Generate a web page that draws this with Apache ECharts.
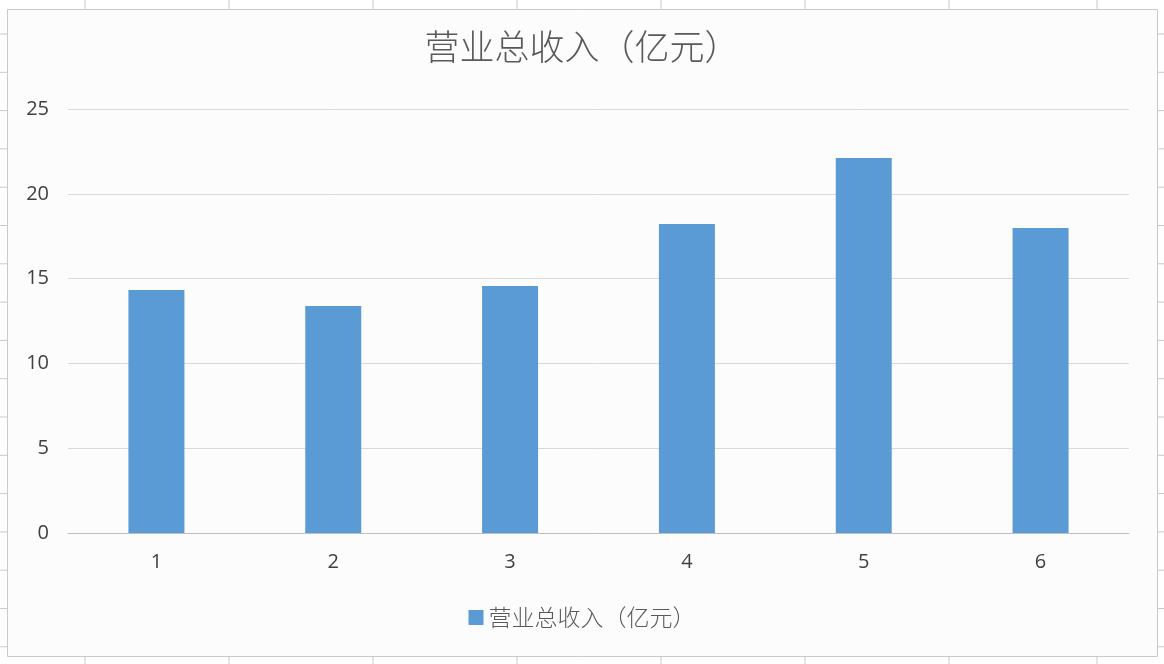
<!DOCTYPE html>
<html>
<head>
<meta charset="UTF-8">
<title>营业总收入</title>
<script src="https://cdn.jsdelivr.net/npm/echarts@6/dist/echarts.min.js"></script>
<style>
  html, body { margin: 0; padding: 0; background: #ffffff; }
  #main { width: 1164px; height: 664px; }
</style>
</head>
<body>
<div id="main"></div>
<script type="text/javascript">
    // 数据
    var titleText = '营业总收入（亿元）';
    var categories = ['1', '2', '3', '4', '5', '6'];
    var revenue = [14.33, 13.38, 14.56, 18.22, 22.11, 17.98];
    var yTicks = { min: 0, max: 25, interval: 5 };

    var myChart = echarts.init(document.getElementById('main'));

    // 表格背景的单元格刻线（装饰）
    var decor = [];
    var colX = [85, 229, 373, 517, 661, 805, 949, 1097];
    colX.forEach(function (x) {
        decor.push({ type: 'line', shape: { x1: x, y1: 0, x2: x, y2: 9 }, style: { stroke: '#c8c8c8', lineWidth: 1 }, z: -1 });
        decor.push({ type: 'line', shape: { x1: x, y1: 657, x2: x, y2: 664 }, style: { stroke: '#c8c8c8', lineWidth: 1 }, z: -1 });
    });
    for (var y = 34; y < 664; y += 38.3) {
        decor.push({ type: 'line', shape: { x1: 0, y1: y, x2: 7, y2: y }, style: { stroke: '#c8c8c8', lineWidth: 1 }, z: -1 });
        decor.push({ type: 'line', shape: { x1: 1158, y1: y, x2: 1164, y2: y }, style: { stroke: '#c8c8c8', lineWidth: 1 }, z: -1 });
    }
    decor.push({
        type: 'rect', shape: { x: 7.5, y: 9.5, width: 1150, height: 647 },
        style: { fill: '#fcfcfd', stroke: '#c9c9c9', lineWidth: 1 }, z: -2
    });

    var textFont = '"Noto Sans CJK SC", "Open Sans", sans-serif';

    myChart.setOption({
        animation: false,
        backgroundColor: '#ffffff',
        graphic: decor,
        title: {
            text: titleText,
            left: 'center',
            top: 24,
            textStyle: { fontSize: 35, fontWeight: 300, color: '#595959', fontFamily: textFont }
        },
        legend: {
            data: [titleText],
            bottom: 30,
            left: 'center',
            icon: 'rect',
            itemWidth: 15,
            itemHeight: 15,
            itemGap: 8,
            textStyle: { fontSize: 23, fontWeight: 300, color: '#595959', fontFamily: textFont }
        },
        grid: { left: 68, right: 35, top: 109, bottom: 131 },
        xAxis: {
            type: 'category',
            data: categories,
            axisLine: { lineStyle: { color: '#bfbfbf' } },
            axisTick: { show: false },
            axisLabel: { fontSize: 20, color: '#404040', margin: 19, fontFamily: '"Open Sans", sans-serif' }
        },
        yAxis: {
            type: 'value',
            min: yTicks.min,
            max: yTicks.max,
            interval: yTicks.interval,
            axisLine: { show: false },
            axisTick: { show: false },
            axisLabel: { fontSize: 20, color: '#404040', margin: 19, fontFamily: '"Open Sans", sans-serif' },
            splitLine: { lineStyle: { color: '#d9d9d9' } }
        },
        series: [{
            name: titleText,
            type: 'bar',
            data: revenue,
            barWidth: 56,
            itemStyle: { color: '#5b9bd5' }
        }]
    });
</script>
</body>
</html>
